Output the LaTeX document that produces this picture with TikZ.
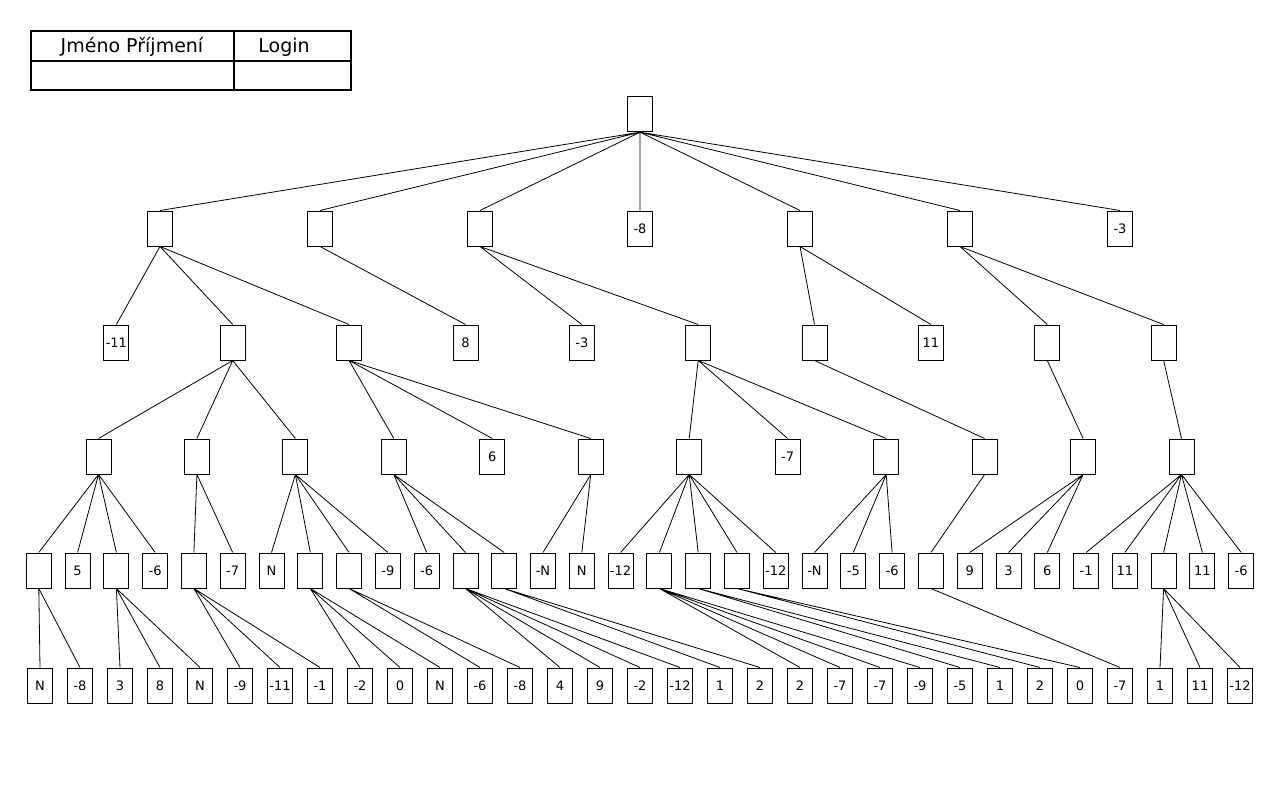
\documentclass[tikz,border=0pt]{standalone}
\usepackage{fontspec}
\setmainfont{DejaVu Sans}
\usetikzlibrary{calc}

\begin{document}
\begin{tikzpicture}[x=1pt,y=-1pt,
	box/.style={draw,line width=1pt,minimum width=25pt,minimum height=35pt,inner sep=0pt,font=\fontsize{13}{15}\selectfont},
	link/.style={line width=0.8pt},
	head/.style={anchor=base,inner sep=0pt,font=\fontsize{19}{22}\selectfont}]

	% fix the size of the page
	\useasboundingbox (0,0) rectangle (1280,800);

	% name and login table on the top
	\draw[line width=2pt] (31,31) rectangle (351,90);
	\draw[line width=2pt] (234,31) -- (234,90) (31,61) -- (351,61);
	\node[head] (N) at (132,52.3) {Jméno Příjmení};
	\node[head] (L) at (284,52.3) {Login};

	% root of the tree
	\node[box] (R) at (640,114.2) {};

	% second row
	\node[box] (A1) at (160,228.5) {};
	\node[box] (A2) at (320,228.5) {};
	\node[box] (A3) at (480,228.5) {};
	\node[box] (A4) at (640,228.5) {-8};
	\node[box] (A5) at (800,228.5) {};
	\node[box] (A6) at (960,228.5) {};
	\node[box] (A7) at (1120,228.5) {-3};

	% third row
	\node[box] (B1) at (116.4,342.5) {-11};
	\node[box] (B2) at (232.7,342.5) {};
	\node[box] (B3) at (349.1,342.5) {};
	\node[box] (B4) at (465.5,342.5) {8};
	\node[box] (B5) at (581.8,342.5) {-3};
	\node[box] (B6) at (698.2,342.5) {};
	\node[box] (B7) at (814.5,342.5) {};
	\node[box] (B8) at (930.9,342.5) {11};
	\node[box] (B9) at (1047.3,342.5) {};
	\node[box] (B10) at (1163.6,342.5) {};

	% fourth row
	\node[box] (C1) at (98.5,456.5) {};
	\node[box] (C2) at (196.9,456.5) {};
	\node[box] (C3) at (295.4,456.5) {};
	\node[box] (C4) at (393.8,456.5) {};
	\node[box] (C5) at (492.3,456.5) {6};
	\node[box] (C6) at (590.8,456.5) {};
	\node[box] (C7) at (689.2,456.5) {};
	\node[box] (C8) at (787.7,456.5) {-7};
	\node[box] (C9) at (886.2,456.5) {};
	\node[box] (C10) at (984.6,456.5) {};
	\node[box] (C11) at (1083.1,456.5) {};
	\node[box] (C12) at (1181.5,456.5) {};

	% fifth row
	\node[box] (D1) at (38.8,570.5) {};
	\node[box] (D2) at (77.6,570.5) {5};
	\node[box] (D3) at (116.4,570.5) {};
	\node[box] (D4) at (155.2,570.5) {-6};
	\node[box] (D5) at (193.9,570.5) {};
	\node[box] (D6) at (232.7,570.5) {-7};
	\node[box] (D7) at (271.5,570.5) {N};
	\node[box] (D8) at (310.3,570.5) {};
	\node[box] (D9) at (349.1,570.5) {};
	\node[box] (D10) at (387.9,570.5) {-9};
	\node[box] (D11) at (426.7,570.5) {-6};
	\node[box] (D12) at (465.5,570.5) {};
	\node[box] (D13) at (504.2,570.5) {};
	\node[box] (D14) at (543.0,570.5) {-N};
	\node[box] (D15) at (581.8,570.5) {N};
	\node[box] (D16) at (620.6,570.5) {-12};
	\node[box] (D17) at (659.4,570.5) {};
	\node[box] (D18) at (698.2,570.5) {};
	\node[box] (D19) at (737.0,570.5) {};
	\node[box] (D20) at (775.8,570.5) {-12};
	\node[box] (D21) at (814.5,570.5) {-N};
	\node[box] (D22) at (853.3,570.5) {-5};
	\node[box] (D23) at (892.1,570.5) {-6};
	\node[box] (D24) at (930.9,570.5) {};
	\node[box] (D25) at (969.7,570.5) {9};
	\node[box] (D26) at (1008.5,570.5) {3};
	\node[box] (D27) at (1047.3,570.5) {6};
	\node[box] (D28) at (1086.1,570.5) {-1};
	\node[box] (D29) at (1124.8,570.5) {11};
	\node[box] (D30) at (1163.6,570.5) {};
	\node[box] (D31) at (1202.4,570.5) {11};
	\node[box] (D32) at (1241.2,570.5) {-6};

	% last row
	\node[box] (E1) at (40,685.5) {N};
	\node[box] (E2) at (80,685.5) {-8};
	\node[box] (E3) at (120,685.5) {3};
	\node[box] (E4) at (160,685.5) {8};
	\node[box] (E5) at (200,685.5) {N};
	\node[box] (E6) at (240,685.5) {-9};
	\node[box] (E7) at (280,685.5) {-11};
	\node[box] (E8) at (320,685.5) {-1};
	\node[box] (E9) at (360,685.5) {-2};
	\node[box] (E10) at (400,685.5) {0};
	\node[box] (E11) at (440,685.5) {N};
	\node[box] (E12) at (480,685.5) {-6};
	\node[box] (E13) at (520,685.5) {-8};
	\node[box] (E14) at (560,685.5) {4};
	\node[box] (E15) at (600,685.5) {9};
	\node[box] (E16) at (640,685.5) {-2};
	\node[box] (E17) at (680,685.5) {-12};
	\node[box] (E18) at (720,685.5) {1};
	\node[box] (E19) at (760,685.5) {2};
	\node[box] (E20) at (800,685.5) {2};
	\node[box] (E21) at (840,685.5) {-7};
	\node[box] (E22) at (880,685.5) {-7};
	\node[box] (E23) at (920,685.5) {-9};
	\node[box] (E24) at (960,685.5) {-5};
	\node[box] (E25) at (1000,685.5) {1};
	\node[box] (E26) at (1040,685.5) {2};
	\node[box] (E27) at (1080,685.5) {0};
	\node[box] (E28) at (1120,685.5) {-7};
	\node[box] (E29) at (1160,685.5) {1};
	\node[box] (E30) at (1200,685.5) {11};
	\node[box] (E31) at (1240,685.5) {-12};

	% edges from the root
	\draw[link] (R.south)--(A1.north) (R.south)--(A2.north) (R.south)--(A3.north) (R.south)--(A4.north)
		(R.south)--(A5.north) (R.south)--(A6.north) (R.south)--(A7.north);

	% edges from the second row
	\draw[link] (A1.south)--(B1.north) (A1.south)--(B2.north) (A1.south)--(B3.north);
	\draw[link] (A2.south)--(B4.north);
	\draw[link] (A3.south)--(B5.north) (A3.south)--(B6.north);
	\draw[link] (A5.south)--(B7.north) (A5.south)--(B8.north);
	\draw[link] (A6.south)--(B9.north) (A6.south)--(B10.north);

	% edges from the third row
	\draw[link] (B2.south)--(C1.north) (B2.south)--(C2.north) (B2.south)--(C3.north);
	\draw[link] (B3.south)--(C4.north) (B3.south)--(C5.north) (B3.south)--(C6.north);
	\draw[link] (B6.south)--(C7.north) (B6.south)--(C8.north) (B6.south)--(C9.north);
	\draw[link] (B7.south)--(C10.north);
	\draw[link] (B9.south)--(C11.north);
	\draw[link] (B10.south)--(C12.north);

	% edges from the fourth row
	\draw[link] (C1.south)--(D1.north) (C1.south)--(D2.north) (C1.south)--(D3.north) (C1.south)--(D4.north);
	\draw[link] (C2.south)--(D5.north) (C2.south)--(D6.north);
	\draw[link] (C3.south)--(D7.north) (C3.south)--(D8.north) (C3.south)--(D9.north) (C3.south)--(D10.north);
	\draw[link] (C4.south)--(D11.north) (C4.south)--(D12.north) (C4.south)--(D13.north);
	\draw[link] (C6.south)--(D14.north) (C6.south)--(D15.north);
	\draw[link] (C7.south)--(D16.north) (C7.south)--(D17.north) (C7.south)--(D18.north)
		(C7.south)--(D19.north) (C7.south)--(D20.north);
	\draw[link] (C9.south)--(D21.north) (C9.south)--(D22.north) (C9.south)--(D23.north);
	\draw[link] (C10.south)--(D24.north);
	\draw[link] (C11.south)--(D25.north) (C11.south)--(D26.north) (C11.south)--(D27.north);
	\draw[link] (C12.south)--(D28.north) (C12.south)--(D29.north) (C12.south)--(D30.north)
		(C12.south)--(D31.north) (C12.south)--(D32.north);

	% edges from the fifth row
	\draw[link] (D1.south)--(E1.north) (D1.south)--(E2.north);
	\draw[link] (D3.south)--(E3.north) (D3.south)--(E4.north) (D3.south)--(E5.north);
	\draw[link] (D5.south)--(E6.north) (D5.south)--(E7.north) (D5.south)--(E8.north);
	\draw[link] (D8.south)--(E9.north) (D8.south)--(E10.north) (D8.south)--(E11.north);
	\draw[link] (D9.south)--(E12.north) (D9.south)--(E13.north);
	\draw[link] (D12.south)--(E14.north) (D12.south)--(E15.north) (D12.south)--(E16.north) (D12.south)--(E17.north);
	\draw[link] (D13.south)--(E18.north) (D13.south)--(E19.north);
	\draw[link] (D17.south)--(E20.north) (D17.south)--(E21.north) (D17.south)--(E22.north) (D17.south)--(E23.north);
	\draw[link] (D18.south)--(E24.north) (D18.south)--(E25.north);
	\draw[link] (D19.south)--(E26.north) (D19.south)--(E27.north);
	\draw[link] (D24.south)--(E28.north);
	\draw[link] (D30.south)--(E29.north) (D30.south)--(E30.north) (D30.south)--(E31.north);

\end{tikzpicture}
\end{document}
